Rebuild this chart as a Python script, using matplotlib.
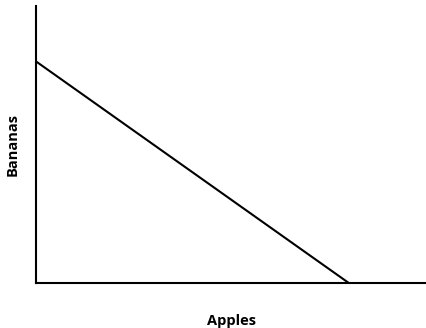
#!/usr/bin/env python3
import matplotlib
matplotlib.use('Agg')
import matplotlib.pyplot as plt

# budget line: apples vs bananas
apples = [0, 8]
bananas = [8, 0]
x_max = 10
y_max = 10

plt.rcParams['font.family'] = ['Open Sans', 'DejaVu Sans']

fig = plt.figure(figsize=(4.27, 3.28), dpi=100)
ax = fig.add_axes([36 / 427, 1 - 283 / 328, 391 / 427, 277 / 328])

ax.plot(apples, bananas, color='black', linewidth=1.5, solid_capstyle='butt')
ax.set_xlim(0, x_max)
ax.set_ylim(0, y_max)

# only left and bottom axes, no ticks
for side in ('top', 'right'):
  ax.spines[side].set_visible(False)
for side in ('left', 'bottom'):
  ax.spines[side].set_linewidth(1.5)
ax.set_xticks([])
ax.set_yticks([])

ax.set_xlabel('Apples', fontsize=10.5, fontweight='bold', labelpad=22)
ax.set_ylabel('Bananas', fontsize=10.5, fontweight='bold', labelpad=12)

fig.savefig('out.png', dpi=100)
plt.close(fig)
